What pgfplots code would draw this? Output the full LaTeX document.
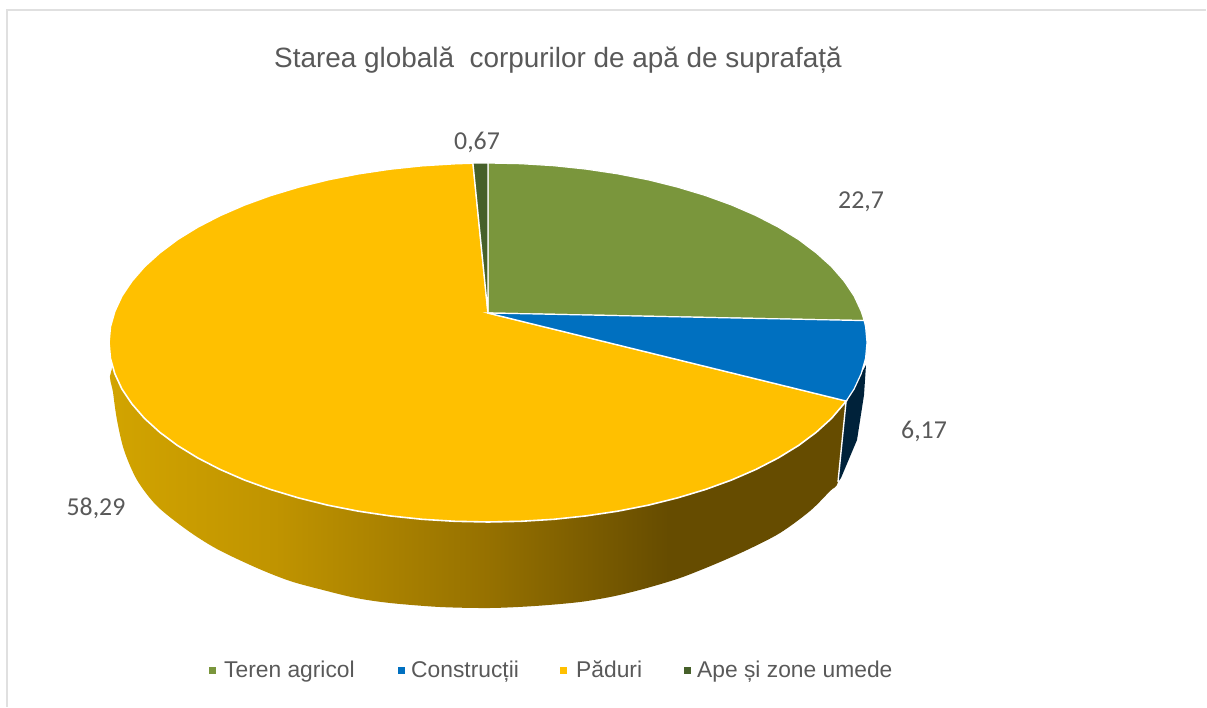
\documentclass[border=0pt]{standalone}
\usepackage{pgfplots}
\pgfplotsset{compat=1.18}
\usepackage{fontspec}
\setmainfont{Liberation Sans}
\newfontfamily\lbl{Carlito}
\definecolor{cgreen}{HTML}{7A963C}
\definecolor{cblue}{HTML}{0070C0}
\definecolor{cgold}{HTML}{FFC000}
\definecolor{cdark}{HTML}{46602A}
\definecolor{ctxt}{HTML}{595959}
\definecolor{gold1}{HTML}{D2A400}
\definecolor{gold2}{HTML}{C09400}
\definecolor{gold3}{HTML}{967100}
\definecolor{gold4}{HTML}{664C00}
\pgfdeclarehorizontalshading{wallshade}{100bp}{
 color(0bp)=(gold1);
 color(25bp)=(gold1);
 color(36bp)=(gold2);
 color(50bp)=(gold3);
 color(62bp)=(gold4);
 color(75bp)=(gold4);
 color(100bp)=(gold4)}
\begin{document}
\begin{tikzpicture}
\begin{axis}[
  scale only axis, width=1207pt, height=708pt,
  xmin=0, xmax=1207, ymin=0, ymax=708, y dir=reverse,
  hide axis, clip=false]
% page extent
\addplot[draw=none, forget plot] coordinates {(0,0) (1207,708)};
% frame
\addplot[draw=black!12, line width=1.6pt] coordinates {(7,707) (7,10) (1206,10)};
% side wall of the forest slice
\addplot[shading=wallshade, draw=none, smooth, tension=0.5] coordinates {
(300,400) (135,350) (111,372) (113,392) (117,420) (124,450) (137,480) (157,506) (187,530) (217,549) (257,568) (290,581) (323,590) (356,598) (390,603) (440,607) (490,608) (535,606) (580,602) (615,596) (647,588) (680,578) (713,565) (747,550) (780,533) (810,511) (830,491) (838,482) (842,445) (846,402) (700,400)} --cycle;
% side wall of the built-up slice
\addplot[fill=cblue!30!black, draw=none] coordinates {
(846,402) (866,365) (864,395) (857,440) (841,478) (838,482)} --cycle;
\addplot[draw=white, line width=1.4pt] coordinates {(846,402) (838,482)};
% top: forest
\addplot[fill=cgold, draw=white, line width=1.6pt] coordinates {
(488,313) (846.3,401) (831.5,418.4) (816.2,432.3) (798.5,445.5) (778.3,457.9) (756,469.4) (731.6,480) (705.4,489.5) (677.5,497.9) (648.2,505.2) (617.6,511.2) (586.1,515.9) (553.8,519.3) (521,521.3) (488,522) (455,521.3) (422.2,519.3) (389.9,515.9) (358.4,511.2) (327.8,505.2) (298.5,497.9) (270.6,489.5) (244.4,480) (220,469.4) (197.7,457.9) (177.5,445.5) (159.8,432.3) (144.5,418.4) (131.9,403.9) (121.9,389) (114.8,373.7) (110.4,358.2) (109,342.5) (110.4,326.8) (114.8,311.3) (121.9,296) (131.9,281.1) (144.5,266.6) (159.8,252.8) (177.5,239.5) (197.7,227.1) (220,215.6) (244.4,205) (270.6,195.5) (298.5,187.1) (327.8,179.8) (358.4,173.8) (389.9,169.1) (422.2,165.7) (455,163.7) (473,163.1)} --cycle;
% top: agricultural land
\addplot[fill=cgreen, draw=white, line width=1.2pt] coordinates {
(488,313) (488,163) (521,163.7) (553.8,165.7) (586.1,169.1) (617.6,173.8) (648.2,179.8) (677.5,187.1) (705.4,195.5) (731.6,205) (756,215.6) (778.3,227.1) (798.5,239.5) (816.2,252.8) (831.5,266.6) (844.1,281.1) (854.1,296) (861.2,311.3) (864.2,320.6)} --cycle;
% top: built-up
\addplot[fill=cblue, draw=white, line width=1.2pt] coordinates {
(488,313) (864.2,320.6) (865.6,326.8) (867,342.5) (865.6,358.2) (861.2,373.7) (854.1,389) (846.3,401)} --cycle;
% top: water
\addplot[fill=cdark, draw=white, line width=1.2pt] coordinates {
(488,313) (473,163.1) (488,163)} --cycle;
\node[text=ctxt, font=\fontsize{27.9}{32}\selectfont, anchor=base] at (axis cs:558,68) {Starea globală\ \ corpurilor de apă de suprafață};
\node[text=ctxt, font=\lbl\fontsize{25.8}{30}\selectfont, anchor=base] at (axis cs:477,150) {0,67};
\node[text=ctxt, font=\lbl\fontsize{25.8}{30}\selectfont, anchor=base] at (axis cs:861,209) {22,7};
\node[text=ctxt, font=\lbl\fontsize{25.8}{30}\selectfont, anchor=base] at (axis cs:924,438) {6,17};
\node[text=ctxt, font=\lbl\fontsize{25.8}{30}\selectfont, anchor=base] at (axis cs:96,515) {58,29};
% legend
\addplot[only marks, mark=square*, mark size=2.8pt, mark options={draw=cgreen, fill=cgreen}] coordinates {(212,670)};
\addplot[only marks, mark=square*, mark size=2.8pt, mark options={draw=cblue, fill=cblue}] coordinates {(401,670)};
\addplot[only marks, mark=square*, mark size=2.8pt, mark options={draw=cgold, fill=cgold}] coordinates {(563,670)};
\addplot[only marks, mark=square*, mark size=2.8pt, mark options={draw=cdark, fill=cdark}] coordinates {(687,670)};
\node[text=ctxt, font=\fontsize{22.8}{27}\selectfont, anchor=base west, inner sep=0pt] at (axis cs:224,677) {Teren agricol};
\node[text=ctxt, font=\fontsize{22.8}{27}\selectfont, anchor=base west, inner sep=0pt] at (axis cs:411,677) {Construcții};
\node[text=ctxt, font=\fontsize{22.8}{27}\selectfont, anchor=base west, inner sep=0pt] at (axis cs:576,677) {Păduri};
\node[text=ctxt, font=\fontsize{22.8}{27}\selectfont, anchor=base west, inner sep=0pt] at (axis cs:697,677) {Ape și zone umede};
\end{axis}
\end{tikzpicture}
\end{document}
